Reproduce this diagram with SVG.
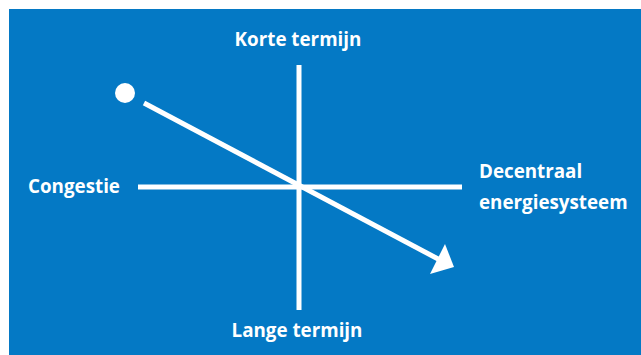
<svg xmlns="http://www.w3.org/2000/svg" width="641" height="355" viewBox="0 0 641 355">
<style>
.lbl{font-family:"Open Sans","Noto Sans","Liberation Sans",sans-serif;font-weight:bold;font-size:18.8px;fill:#ffffff}
.ax{stroke:#ffffff;stroke-width:5;fill:none}
.wh{fill:#ffffff}
</style>
<rect x="0" y="0" width="641" height="355" fill="#ffffff"/>
<rect x="9" y="9" width="632" height="346" fill="#0479C5"/>
<g id="connectors">
<line class="ax" x1="138" y1="187" x2="462" y2="187"/>
<line class="ax" x1="299" y1="65" x2="299" y2="310"/>
<line class="ax" x1="144" y1="103" x2="440" y2="260"/>
<polygon class="wh" points="454,267 445,244 430,274"/>
</g>
<g id="start"><circle class="wh" cx="125" cy="93" r="10"/></g>
<g id="korte"><text class="lbl" x="298" y="46" text-anchor="middle">Korte termijn</text></g>
<g id="lange"><text class="lbl" x="297" y="337" text-anchor="middle">Lange termijn</text></g>
<g id="congestie"><text class="lbl" x="28" y="193">Congestie</text></g>
<g id="decentraal"><text class="lbl" x="479" y="178">Decentraal</text><text class="lbl" x="479" y="209">energiesysteem</text></g>
</svg>
